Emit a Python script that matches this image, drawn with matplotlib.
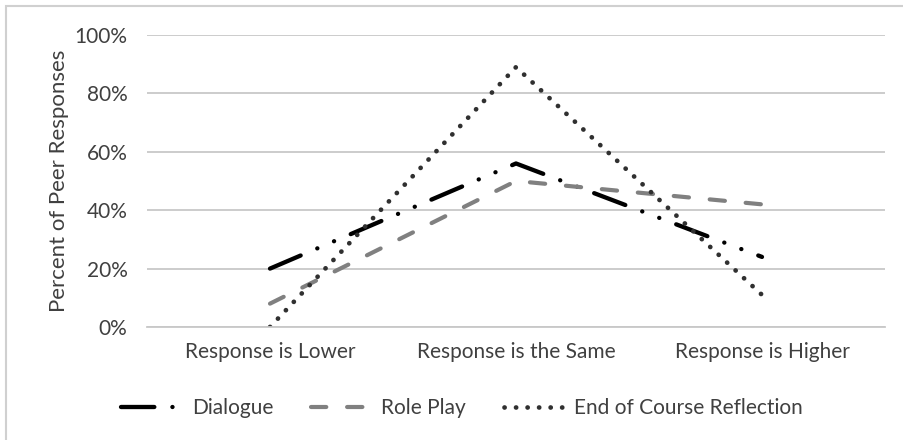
import matplotlib
matplotlib.use("Agg")
import matplotlib.pyplot as plt
from matplotlib.patches import Rectangle
from matplotlib.ticker import PercentFormatter

plt.rcParams['font.family'] = ['Lato', 'DejaVu Sans']
plt.rcParams['lines.scale_dashes'] = False

# data (percent of peer responses)
categories = ["Response is Lower", "Response is the Same", "Response is Higher"]
dialogue = [20, 56, 24]
role_play = [8, 50, 42]
reflection = [0, 89, 11]
series_names = ["Dialogue", "Role Play", "End of Course Reflection"]

text_color = "#404040"
grid_color = "#c8c8c8"

fig = plt.figure(figsize=(9.04, 4.4), dpi=100)
ax = fig.add_axes([147 / 904, 1 - 327 / 440, (885 - 147) / 904, (327 - 35) / 440])

x = range(len(categories))
ax.plot(x, dialogue, color="black", lw=3.1, dash_capstyle="round",
        dashes=(24, 13, 0.1, 13, 0.1, 13), label=series_names[0])
ax.plot(x, role_play, color="#808080", lw=3.0, dash_capstyle="round",
        dashes=(11, 15), label=series_names[1])
ax.plot(x, reflection, color="#303030", lw=3.4, dash_capstyle="round",
        dashes=(0.1, 8.2), label=series_names[2])

ax.set_xlim(-0.5, 2.5)
ax.set_ylim(0, 100)
ax.set_yticks([0, 20, 40, 60, 80, 100])
ax.yaxis.set_major_formatter(PercentFormatter(decimals=0))
ax.set_xticks(list(x))
ax.set_xticklabels(categories)
ax.grid(axis="y", color=grid_color, lw=1.3)
ax.set_axisbelow(True)
for side in ["top", "right", "left"]:
    ax.spines[side].set_visible(False)
ax.spines["bottom"].set_color(grid_color)
ax.spines["bottom"].set_linewidth(1.3)
ax.tick_params(length=0, labelsize=15, colors=text_color)
ax.tick_params(axis="x", pad=11)
ax.tick_params(axis="y", pad=14)
ax.set_ylabel("Percent of Peer Responses", fontsize=16, color=text_color, labelpad=4)

leg = fig.legend(loc="center", bbox_to_anchor=(462 / 904, 1 - 408 / 440), ncol=3,
                 frameon=False, fontsize=15, handlelength=3.0, columnspacing=1.8,
                 handletextpad=0.4)
for t in leg.get_texts():
    t.set_color(text_color)

# chart frame (only top and left edges show in the reference)
fig.patches.append(Rectangle((6 / 904, -0.1), 1.2, 1 - 6 / 440 + 0.1,
                             transform=fig.transFigure, fill=False,
                             edgecolor="#d0d0d0", lw=1.5))

fig.savefig("out.png", dpi=100)
